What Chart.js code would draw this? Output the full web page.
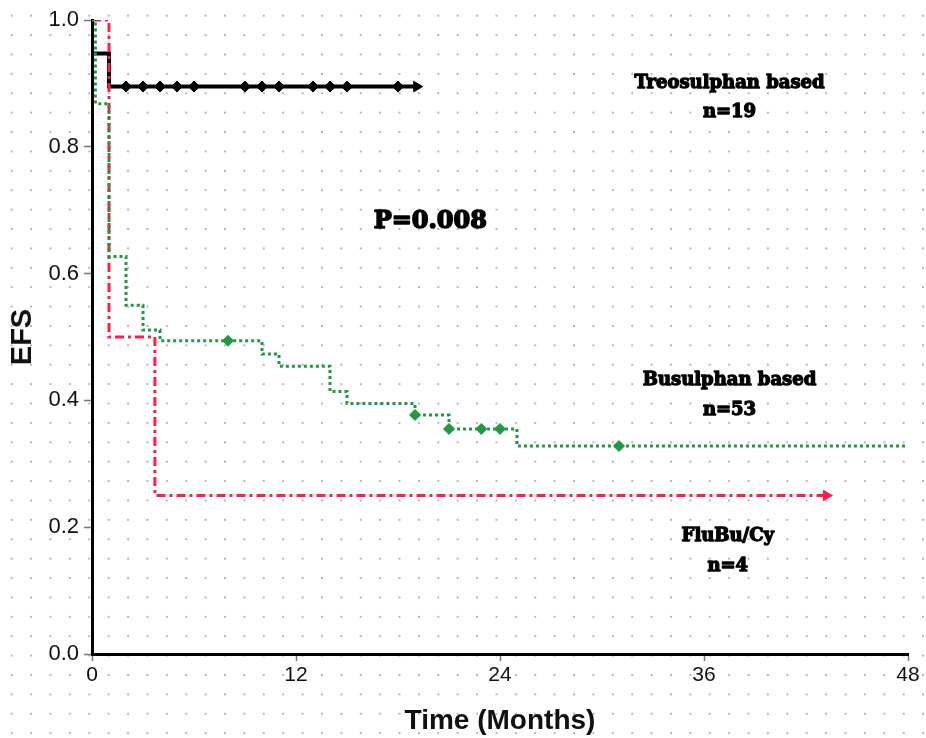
<!DOCTYPE html>
<html>
<head>
<meta charset="utf-8">
<script src="https://cdn.jsdelivr.net/npm/chart.js@4/dist/chart.umd.min.js"></script>
<style>
  html, body { margin: 0; padding: 0; }
  body {
    width: 926px; height: 738px; overflow: hidden;
    background-color: #ffffff;
    background-image: radial-gradient(circle, #b4b4b4 0.9px, rgba(255,255,255,0) 1.3px);
    background-size: 19.4px 19.4px;
    background-position: 2px 6px;
  }
  #wrap { position: absolute; left: 0; top: 0; width: 926px; height: 738px; }
</style>
</head>
<body>
<div id="wrap"><canvas id="c" width="926" height="738"></canvas></div>
<script>
// ---- Data ----
// Treosulphan based (n=19)
const treoTimes  = [0, 0, 1, 19.1];
const treoSurv   = [1.0, 0.947, 0.895, 0.895];
const treoCensorTimes = [2, 3, 4, 5, 6, 9, 10, 11, 13, 14, 15, 18];
const treoCensorSurv  = [0.895, 0.895, 0.895, 0.895, 0.895, 0.895, 0.895, 0.895, 0.895, 0.895, 0.895, 0.895];

// Busulphan based (n=53)
const busuTimes = [0, 0.2, 1, 2, 3, 4, 10, 11, 14, 15, 19, 21, 25, 48];
const busuSurv  = [1.0, 0.868, 0.627, 0.550, 0.511, 0.494, 0.473, 0.454, 0.414, 0.395, 0.377, 0.355, 0.328, 0.328];
const busuCensorTimes = [8, 19, 21, 22.9, 24, 31];
const busuCensorSurv  = [0.494, 0.377, 0.355, 0.355, 0.355, 0.328];

// FluBu/Cy (n=4)
const fluTimes = [0, 1, 3.7, 43.2];
const fluSurv  = [1.0, 0.5, 0.25, 0.25];

// Axis ticks
const xTicks = [0, 12, 24, 36, 48];
const yTicks = [0.0, 0.2, 0.4, 0.6, 0.8, 1.0];

// Text annotations: [text, months, EFS, kind]
const notes = [
  ["Treosulphan based", 37.5, 0.900, "small"],
  ["n=19",              37.5, 0.855, "small"],
  ["P=0.008",           19.9, 0.682, "big"],
  ["Busulphan based",   37.5, 0.431, "small"],
  ["n=53",              37.5, 0.385, "small"],
  ["FluBu/Cy",          37.4, 0.185, "small"],
  ["n=4",               37.4, 0.139, "small"]
];

const pts = (xs, ys) => xs.map((x, i) => ({ x: x, y: ys[i] }));
const lastPt = (xs, ys) => [{ x: xs[xs.length - 1], y: ys[ys.length - 1] }];

const RED = '#ff1f45';
const GREEN = '#1f9a3e';

const notePlugin = {
  id: 'notes',
  afterDatasetsDraw(chart) {
    const { ctx, scales } = chart;
    ctx.save();
    ctx.fillStyle = '#000';
    ctx.strokeStyle = '#000';
    ctx.lineJoin = 'round';
    ctx.textAlign = 'center';
    ctx.textBaseline = 'middle';
    notes.forEach(([t, x, y, kind]) => {
      const big = kind === 'big';
      ctx.font = big ? 'bold 24px "DejaVu Serif"' : 'bold 18px "DejaVu Serif"';
      ctx.lineWidth = big ? 1.6 : 1.3;
      const px = scales.x.getPixelForValue(x), py = scales.y.getPixelForValue(y);
      ctx.strokeText(t, px, py);
      ctx.fillText(t, px, py);
    });
    ctx.restore();
  }
};

new Chart(document.getElementById('c'), {
  type: 'scatter',
  data: {
    datasets: [
      { label: 'Busulphan based', data: pts(busuTimes, busuSurv), showLine: true, stepped: 'before',
        borderColor: GREEN, borderWidth: 3, borderDash: [3, 3], pointRadius: 0, fill: false },
      { label: 'FluBu/Cy', data: pts(fluTimes, fluSurv), showLine: true, stepped: 'before',
        borderColor: RED, borderWidth: 3, borderDash: [9, 4, 3, 4], pointRadius: 0, fill: false },
      { label: 'Treosulphan based', data: pts(treoTimes, treoSurv), showLine: true, stepped: 'before',
        borderColor: '#000', borderWidth: 4, pointRadius: 0, fill: false },
      { label: 'treo censored', data: pts(treoCensorTimes, treoCensorSurv), showLine: false,
        pointStyle: 'rectRot', pointRadius: 5.5, backgroundColor: '#000', borderColor: '#000', borderWidth: 1 },
      { label: 'busu censored', data: pts(busuCensorTimes, busuCensorSurv), showLine: false,
        pointStyle: 'rectRot', pointRadius: 5.5, backgroundColor: GREEN, borderColor: GREEN, borderWidth: 1 },
      { label: 'treo end', data: lastPt(treoTimes, treoSurv), showLine: false,
        pointStyle: 'triangle', rotation: 90, pointRadius: 6, backgroundColor: '#000', borderColor: '#000' },
      { label: 'flu end', data: lastPt(fluTimes, fluSurv), showLine: false,
        pointStyle: 'triangle', rotation: 90, pointRadius: 6, backgroundColor: RED, borderColor: RED }
    ]
  },
  options: {
    responsive: false,
    animation: false,
    events: [],
    layout: { padding: { top: 20, right: 18, left: 0, bottom: 0 } },
    plugins: { legend: { display: false }, tooltip: { enabled: false } },
    scales: {
      x: {
        type: 'linear', min: 0, max: 48,
        afterBuildTicks: (s) => { s.ticks = xTicks.map(v => ({ value: v })); },
        afterFit: (s) => { s.height = 84; },
        border: { color: '#000', width: 3 },
        grid: { drawOnChartArea: false, drawTicks: true, tickLength: 7, color: '#777', tickWidth: 1.5 },
        ticks: { color: '#111', padding: 2, font: { family: '"Liberation Sans", Arial', size: 21 }, maxRotation: 0 },
        title: { display: true, text: 'Time (Months)', color: '#111', padding: { top: 0, bottom: 0 },
                 font: { family: '"Liberation Sans", Arial', size: 28, weight: 'bold' } }
      },
      y: {
        type: 'linear', min: 0, max: 1,
        afterBuildTicks: (s) => { s.ticks = yTicks.map(v => ({ value: v })); },
        afterFit: (s) => { s.width = 92; },
        border: { color: '#000', width: 3 },
        grid: { drawOnChartArea: false, drawTicks: true, tickLength: 8, color: '#777', tickWidth: 1.5 },
        ticks: { color: '#111', padding: 5, font: { family: '"Liberation Sans", Arial', size: 22 },
                 callback: (v) => Number(v).toFixed(1) },
        title: { display: true, text: 'EFS', color: '#111', padding: { top: 6, bottom: 0 },
                 font: { family: '"Liberation Sans", Arial', size: 29, weight: 'bold' } }
      }
    }
  },
  plugins: [notePlugin]
});
</script>
</body>
</html>
